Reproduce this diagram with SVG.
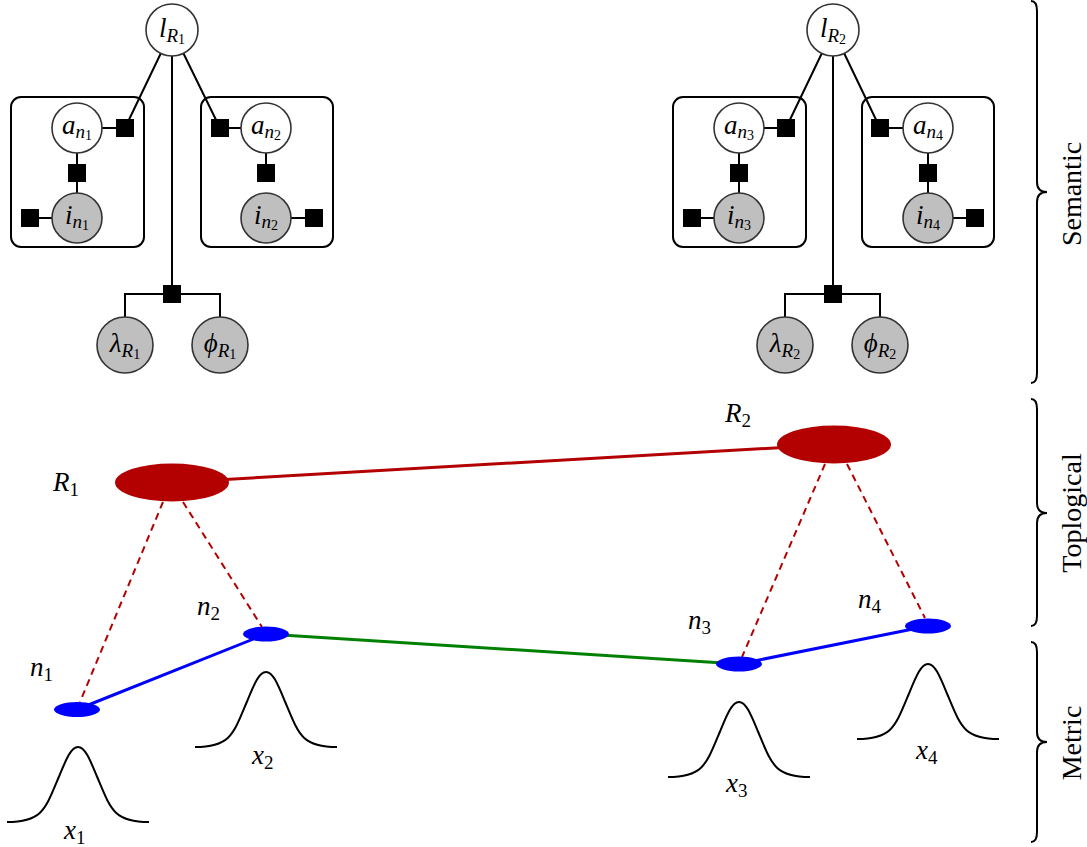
<svg xmlns="http://www.w3.org/2000/svg" width="1087" height="847" viewBox="0 0 1087 847">
<defs>
<style>
.var{fill:#fff;stroke:#333;stroke-width:1.6}
.obs{fill:#bfbfbf;stroke:#333;stroke-width:1.6}
.fac{fill:#000}
.box{fill:none;stroke:#000;stroke-width:2}
.e{stroke:#000;stroke-width:2;fill:none}
.red{stroke:#b30000;stroke-width:3;fill:none}
.dash{stroke:#b30000;stroke-width:2;stroke-dasharray:7 5;fill:none}
.blue{stroke:#0000ff;stroke-width:3}
.green{stroke:#008000;stroke-width:3}
.top{fill:#b30000}
.met{fill:#0000ff}
.g{fill:none;stroke:#000;stroke-width:2}
.brace{fill:none;stroke:#000;stroke-width:2}
.m{font-family:"Liberation Serif","DejaVu Serif",serif;font-style:italic;font-size:27px;fill:#000}
.lab{font-family:"Liberation Serif","DejaVu Serif",serif;font-style:italic;font-size:27px;fill:#000}
.s{font-size:19px}
.ss{font-size:14px;font-style:normal}
.d{font-size:19px;font-style:normal}
.lbl{font-family:"Liberation Serif","DejaVu Serif",serif;font-size:28px;fill:#000}
</style>
<path id="gauss" d="M-71,0 C-36,0 -33,-12 -19,-45.5 C-12,-62.3 -7,-75 0,-75 C7,-75 12,-62.3 19,-45.5 C33,-12 36,0 71,0"/>
</defs>

<g id="plates">
<rect class="box" x="11" y="97" width="133" height="150" rx="10"/>
<rect class="box" x="201" y="97" width="132" height="150" rx="10"/>
<rect class="box" x="673" y="97" width="133" height="150" rx="10"/>
<rect class="box" x="862" y="97" width="132" height="150" rx="10"/>
</g>

<g id="connectors">
<path class="e" d="M172,30 L125,128 M172,30 L220,128 M172,30 L172,294 M125,128 L77,128 M77,128 L77,218 M30,218 L77,218 M220,128 L266,128 M266,128 L266,173 M266,218 L314,218 M125,318 L125,294 L220,294 L220,318"/>
<path class="e" d="M833,30 L786,128 M833,30 L880,128 M833,30 L833,294 M786,128 L739,128 M739,128 L739,218 M692,218 L739,218 M880,128 L928,128 M928,128 L928,218 M928,218 L975,218 M785,318 L785,294 L880,294 L880,318"/>
<line class="red" x1="172" y1="482.5" x2="834" y2="444.5"/>
<line class="dash" x1="163" y1="502" x2="80" y2="702"/>
<line class="dash" x1="183" y1="502" x2="262" y2="627"/>
<line class="dash" x1="825" y1="464" x2="742" y2="657"/>
<line class="dash" x1="847" y1="464" x2="925" y2="618"/>
<line class="blue" x1="77" y1="709.5" x2="266" y2="634"/>
<line class="green" x1="266" y1="634" x2="739" y2="664"/>
<line class="blue" x1="739" y1="664" x2="928" y2="626"/>
</g>

<g id="factors">
<rect class="fac" x="116" y="119" width="18" height="18"/>
<rect class="fac" x="68" y="164" width="18" height="18"/>
<rect class="fac" x="21" y="209" width="18" height="18"/>
<rect class="fac" x="211" y="119" width="18" height="18"/>
<rect class="fac" x="257" y="164" width="18" height="18"/>
<rect class="fac" x="305" y="209" width="18" height="18"/>
<rect class="fac" x="163" y="285" width="18" height="18"/>
<rect class="fac" x="777" y="119" width="18" height="18"/>
<rect class="fac" x="730" y="164" width="18" height="18"/>
<rect class="fac" x="683" y="209" width="18" height="18"/>
<rect class="fac" x="871" y="119" width="18" height="18"/>
<rect class="fac" x="919" y="164" width="18" height="18"/>
<rect class="fac" x="966" y="209" width="18" height="18"/>
<rect class="fac" x="824" y="285" width="18" height="18"/>
</g>

<g id="lR1"><circle class="var" cx="172" cy="30" r="26"/><text class="m" x="172" y="37" text-anchor="middle">l<tspan class="s" dy="5">R</tspan><tspan class="ss" dy="2">1</tspan></text></g>
<g id="an1"><circle class="var" cx="77" cy="128" r="25"/><text class="m" x="77" y="134" text-anchor="middle">a<tspan class="s" dy="4">n</tspan><tspan class="ss" dy="2">1</tspan></text></g>
<g id="in1"><circle class="obs" cx="77" cy="218" r="25"/><text class="m" x="77" y="224" text-anchor="middle">i<tspan class="s" dy="4">n</tspan><tspan class="ss" dy="2">1</tspan></text></g>
<g id="an2"><circle class="var" cx="266" cy="128" r="25"/><text class="m" x="266" y="134" text-anchor="middle">a<tspan class="s" dy="4">n</tspan><tspan class="ss" dy="2">2</tspan></text></g>
<g id="in2"><circle class="obs" cx="266" cy="218" r="25"/><text class="m" x="266" y="224" text-anchor="middle">i<tspan class="s" dy="4">n</tspan><tspan class="ss" dy="2">2</tspan></text></g>
<g id="lambdaR1"><circle class="obs" cx="125" cy="345" r="28"/><text class="m" x="125" y="352" text-anchor="middle">λ<tspan class="s" dy="5">R</tspan><tspan class="ss" dy="2">1</tspan></text></g>
<g id="phiR1"><circle class="obs" cx="220" cy="345" r="28"/><text class="m" x="220" y="352" text-anchor="middle">ϕ<tspan class="s" dy="5">R</tspan><tspan class="ss" dy="2">1</tspan></text></g>

<g id="lR2"><circle class="var" cx="833" cy="30" r="26"/><text class="m" x="833" y="37" text-anchor="middle">l<tspan class="s" dy="5">R</tspan><tspan class="ss" dy="2">2</tspan></text></g>
<g id="an3"><circle class="var" cx="739" cy="128" r="25"/><text class="m" x="739" y="134" text-anchor="middle">a<tspan class="s" dy="4">n</tspan><tspan class="ss" dy="2">3</tspan></text></g>
<g id="in3"><circle class="obs" cx="739" cy="218" r="25"/><text class="m" x="739" y="224" text-anchor="middle">i<tspan class="s" dy="4">n</tspan><tspan class="ss" dy="2">3</tspan></text></g>
<g id="an4"><circle class="var" cx="928" cy="128" r="25"/><text class="m" x="928" y="134" text-anchor="middle">a<tspan class="s" dy="4">n</tspan><tspan class="ss" dy="2">4</tspan></text></g>
<g id="in4"><circle class="obs" cx="928" cy="218" r="25"/><text class="m" x="928" y="224" text-anchor="middle">i<tspan class="s" dy="4">n</tspan><tspan class="ss" dy="2">4</tspan></text></g>
<g id="lambdaR2"><circle class="obs" cx="785" cy="345" r="28"/><text class="m" x="785" y="352" text-anchor="middle">λ<tspan class="s" dy="5">R</tspan><tspan class="ss" dy="2">2</tspan></text></g>
<g id="phiR2"><circle class="obs" cx="880" cy="345" r="28"/><text class="m" x="880" y="352" text-anchor="middle">ϕ<tspan class="s" dy="5">R</tspan><tspan class="ss" dy="2">2</tspan></text></g>

<g id="R1"><ellipse class="top" cx="172" cy="482.5" rx="57" ry="19"/><text class="lab" x="53" y="491">R<tspan class="d" dy="5">1</tspan></text></g>
<g id="R2"><ellipse class="top" cx="834" cy="444.5" rx="57" ry="19"/><text class="lab" x="725" y="422">R<tspan class="d" dy="5">2</tspan></text></g>

<g id="n1"><ellipse class="met" cx="77" cy="709.5" rx="23" ry="7.5"/><text class="lab" x="30" y="676">n<tspan class="d" dy="5">1</tspan></text></g>
<g id="n2"><ellipse class="met" cx="266" cy="634" rx="23" ry="7.5"/><text class="lab" x="197" y="615">n<tspan class="d" dy="5">2</tspan></text></g>
<g id="n3"><ellipse class="met" cx="739" cy="664" rx="23" ry="7.5"/><text class="lab" x="688" y="629">n<tspan class="d" dy="5">3</tspan></text></g>
<g id="n4"><ellipse class="met" cx="928" cy="626" rx="23" ry="7.5"/><text class="lab" x="858" y="608">n<tspan class="d" dy="5">4</tspan></text></g>

<g id="x1"><use href="#gauss" class="g" transform="translate(78,822)"/><text class="lab" x="64" y="839">x<tspan class="d" dy="5">1</tspan></text></g>
<g id="x2"><use href="#gauss" class="g" transform="translate(266,747)"/><text class="lab" x="252" y="764">x<tspan class="d" dy="5">2</tspan></text></g>
<g id="x3"><use href="#gauss" class="g" transform="translate(739,777)"/><text class="lab" x="726" y="792">x<tspan class="d" dy="5">3</tspan></text></g>
<g id="x4"><use href="#gauss" class="g" transform="translate(928,739)"/><text class="lab" x="916" y="759">x<tspan class="d" dy="5">4</tspan></text></g>

<g id="layers">
<path class="brace" d="M1031,1 C1035,1 1037,4 1037,11 L1037,182 C1037,188 1040,192 1047,192 C1040,192 1037,196 1037,202 L1037,373 C1037,380 1035,383 1031,383"/>
<path class="brace" d="M1031,399 C1035,399 1037,402 1037,409 L1037,503 C1037,509 1040,513 1047,513 C1040,513 1037,517 1037,523 L1037,616 C1037,623 1035,626 1031,626"/>
<path class="brace" d="M1031,642 C1035,642 1037,645 1037,652 L1037,732 C1037,738 1040,742 1047,742 C1040,742 1037,746 1037,752 L1037,832 C1037,839 1035,842 1031,842"/>
<text class="lbl" text-anchor="middle" transform="translate(1081,194) rotate(-90)">Semantic</text>
<text class="lbl" text-anchor="middle" transform="translate(1081,513) rotate(-90)">Toplogical</text>
<text class="lbl" text-anchor="middle" transform="translate(1081,743) rotate(-90)">Metric</text>
</g>
</svg>
